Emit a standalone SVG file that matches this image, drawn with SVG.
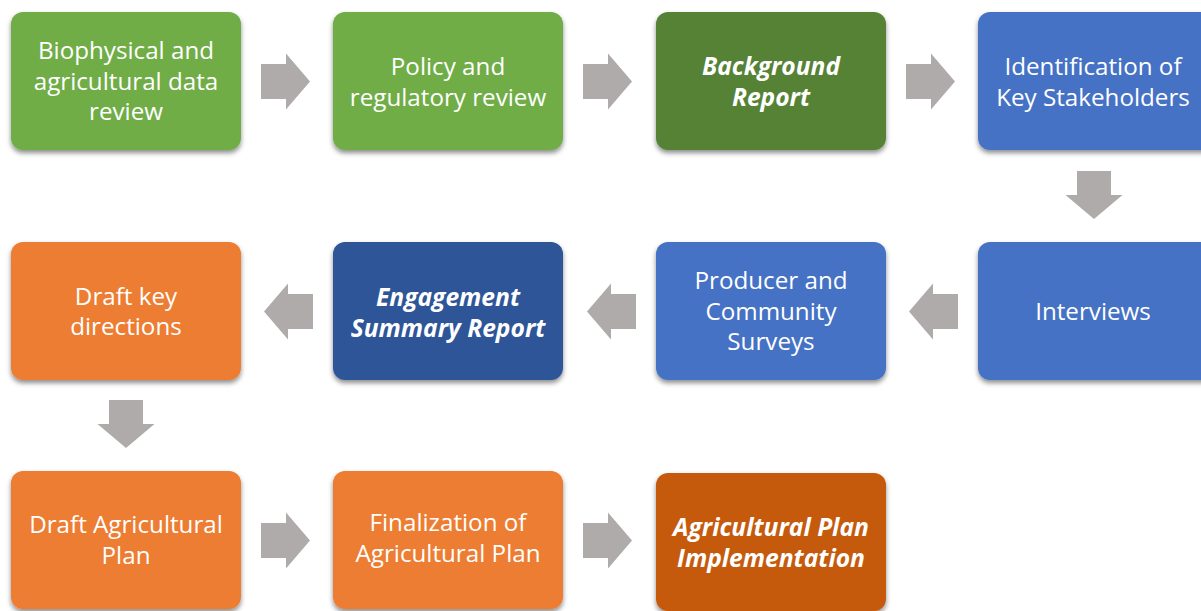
<svg xmlns="http://www.w3.org/2000/svg" width="1201" height="611" viewBox="0 0 1201 611">
  <style>
    .box { filter: url(#shadow); }
    .green { fill: #70AD47; }
    .green-dk { fill: #548235; }
    .blue { fill: #4472C4; }
    .blue-dk { fill: #2F5597; }
    .orange { fill: #ED7D31; }
    .orange-dk { fill: #C55A11; }
    .label { font-family: "Open Sans", "Liberation Sans", sans-serif; font-size: 24.2px; fill: #FFFFFF; text-anchor: middle; }
    .em { font-weight: bold; font-style: italic; font-size: 24.6px; }
    .arrow { fill: #AFABAB; }
  </style>
  <defs>
    <filter id="shadow" x="-10%" y="-10%" width="120%" height="130%">
      <feDropShadow dx="0" dy="3" stdDeviation="2.5" flood-color="#000000" flood-opacity="0.45"/>
    </filter>
    <!-- block arrow shapes, drawn at the origin and placed with transforms -->
    <path id="arrow-right" d="M0,-17.5 H25 V-28 L49,0 L25,28 V17.5 H0 Z"/>
    <path id="arrow-left" d="M0,0 L24,-28 V-17.5 H49 V17.5 H24 V28 Z"/>
    <path id="arrow-down" d="M-17,0 H17 V24 H28.5 L0,48 L-28.5,24 H-17 Z"/>
  </defs>

  <!-- connectors -->
  <g id="connectors" class="arrow">
    <use href="#arrow-right" x="261" y="81.5"/>
    <use href="#arrow-right" x="583" y="81.5"/>
    <use href="#arrow-right" x="906" y="81.5"/>
    <use href="#arrow-down" x="1094" y="171"/>
    <use href="#arrow-left" x="909" y="311.5"/>
    <use href="#arrow-left" x="587" y="311.5"/>
    <use href="#arrow-left" x="264" y="311.5"/>
    <use href="#arrow-down" x="126" y="400"/>
    <use href="#arrow-right" x="261" y="540.5"/>
    <use href="#arrow-right" x="583" y="540.5"/>
  </g>

  <!-- row 1 -->
  <g id="biophysical">
    <rect class="box green" x="11" y="12" width="230" height="138" rx="12"/>
    <text class="label" x="126" y="58.5">Biophysical and</text>
    <text class="label" x="126" y="89.5">agricultural data</text>
    <text class="label" x="126" y="119.5">review</text>
  </g>
  <g id="policy">
    <rect class="box green" x="333" y="12" width="230" height="138" rx="12"/>
    <text class="label" x="448" y="74.5">Policy and</text>
    <text class="label" x="448" y="105.5">regulatory review</text>
  </g>
  <g id="background-report">
    <rect class="box green-dk" x="656" y="12" width="230" height="138" rx="12"/>
    <text class="label em" x="771" y="74.5">Background</text>
    <text class="label em" x="771" y="105.5">Report</text>
  </g>
  <g id="stakeholders">
    <rect class="box blue" x="978" y="12" width="240" height="138" rx="12"/>
    <text class="label" x="1093" y="74.5">Identification of</text>
    <text class="label" x="1093" y="105.5">Key Stakeholders</text>
  </g>

  <!-- row 2 -->
  <g id="interviews">
    <rect class="box blue" x="978" y="242" width="240" height="138" rx="12"/>
    <text class="label" x="1093" y="319.5">Interviews</text>
  </g>
  <g id="surveys">
    <rect class="box blue" x="656" y="242" width="230" height="138" rx="12"/>
    <text class="label" x="771" y="288.5">Producer and</text>
    <text class="label" x="771" y="319.5">Community</text>
    <text class="label" x="771" y="349.5">Surveys</text>
  </g>
  <g id="engagement-report">
    <rect class="box blue-dk" x="333" y="242" width="230" height="138" rx="12"/>
    <text class="label em" x="448" y="305.5">Engagement</text>
    <text class="label em" x="448" y="336.5">Summary Report</text>
  </g>
  <g id="key-directions">
    <rect class="box orange" x="11" y="242" width="230" height="138" rx="12"/>
    <text class="label" x="126" y="305">Draft key</text>
    <text class="label" x="126" y="335">directions</text>
  </g>

  <!-- row 3 -->
  <g id="draft-plan">
    <rect class="box orange" x="11" y="471" width="230" height="138" rx="12"/>
    <text class="label" x="126" y="532.5">Draft Agricultural</text>
    <text class="label" x="126" y="563.5">Plan</text>
  </g>
  <g id="finalization">
    <rect class="box orange" x="333" y="471" width="230" height="138" rx="12"/>
    <text class="label" x="448" y="530.5">Finalization of</text>
    <text class="label" x="448" y="561.5">Agricultural Plan</text>
  </g>
  <g id="implementation">
    <rect class="box orange-dk" x="656" y="473" width="230" height="138" rx="12"/>
    <text class="label em" x="771" y="535.5">Agricultural Plan</text>
    <text class="label em" x="771" y="566.5">Implementation</text>
  </g>
</svg>
